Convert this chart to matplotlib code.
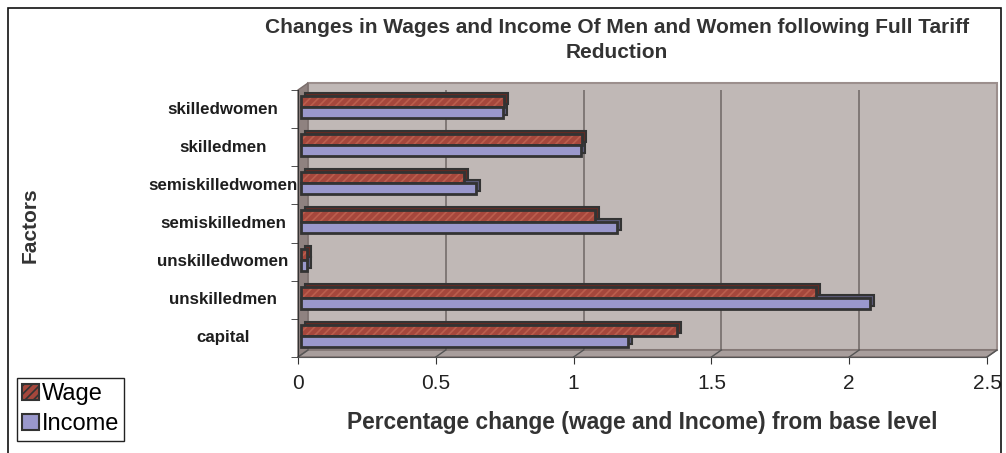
import matplotlib
matplotlib.use("Agg")
from matplotlib import pyplot as plt
from matplotlib.patches import Rectangle, Polygon, Patch
from matplotlib.transforms import offset_copy
import numpy as np

# data (bottom -> top)
categories = ["capital", "unskilledmen", "unskilledwomen", "semiskilledmen",
              "semiskilledwomen", "skilledmen", "skilledwomen"]
wage = [1.365, 1.868, 0.02, 1.067, 0.593, 1.02, 0.738]
income = [1.186, 2.063, 0.02, 1.146, 0.635, 1.015, 0.734]

x_ticks = [0, 0.5, 1, 1.5, 2, 2.5]
x_tick_labels = ["0", "0.5", "1", "1.5", "2", "2.5"]

title = "Changes in Wages and Income Of Men and Women following Full Tariff\nReduction"
x_title = "Percentage change (wage and Income) from base level"
y_title = "Factors"

wage_color = "#A5473C"
wage_hatch = "#BB5E4E"
income_color = "#9A98CC"
wall_color = "#C0B8B6"
edge_dark = "#333333"

plt.rcParams['font.family'] = ['Liberation Sans', 'DejaVu Sans']
plt.rcParams['hatch.linewidth'] = 1.2

W, H = 1006, 453
fig = plt.figure(figsize=(W / 100, H / 100), dpi=100)
ax = fig.add_axes([298 / W, 1 - 357 / H, (987 - 298) / W, (357 - 90) / H])
ax.set_xlim(0, 2.5)
ax.set_ylim(-0.5, len(categories) - 0.5)
ax.patch.set_visible(False)

# depth offset of the back wall (pixels)
dx, dy = 10, 7
back = offset_copy(ax.transAxes, fig, x=dx, y=dy, units='dots')
back_data = offset_copy(ax.transData, fig, x=dx, y=dy, units='dots')

# back wall
ax.add_patch(Rectangle((0, 0), 1, 1, transform=back, facecolor=wall_color,
                       edgecolor="#9C8F8D", lw=1.5, zorder=0, clip_on=False))

# left side wall and floor, built from the axes corners
fig.canvas.draw()
c = ax.transAxes.transform([(0, 0), (0, 1), (1, 0)])
left_wall = [c[0], c[1], c[1] + (dx, dy), c[0] + (dx, dy)]
floor = [c[0], c[2], c[2] + (dx, dy), c[0] + (dx, dy)]
ax.add_patch(Polygon(left_wall, closed=True, transform=None, facecolor="#8F8280",
                     edgecolor="#7A6E6C", lw=1, zorder=0.5, clip_on=False))
ax.add_patch(Polygon(floor, closed=True, transform=None, facecolor="#A89E9C",
                     edgecolor="#7A6E6C", lw=1, zorder=0.5, clip_on=False))

# gridlines on the back wall
ax.vlines(x_ticks[1:-1], -0.5, len(categories) - 0.5, transform=back_data,
          colors="#6E6664", lw=1.1, zorder=0.6)

# small depth ticks on the floor
for xt in x_ticks:
    p = ax.transData.transform((xt, -0.5))
    ax.plot([p[0], p[0] + dx], [p[1], p[1] + dy], transform=None,
            color="#555555", lw=1, zorder=0.7, clip_on=False)

# bars
y = np.arange(len(categories))
h = 0.29
front = offset_copy(ax.transData, fig, x=3, y=2, units='dots')
side = offset_copy(ax.transData, fig, x=7, y=5, units='dots')

def shade(col, f=0.6):
    rgb = np.array(matplotlib.colors.to_rgb(col))
    return tuple(rgb * f)

ax.barh(y + h / 2, wage, height=h, color=shade(wage_color), edgecolor=edge_dark,
        lw=1.5, transform=side, zorder=2)
ax.barh(y - h / 2, income, height=h, color=shade(income_color), edgecolor=edge_dark,
        lw=1.5, transform=side, zorder=2)
ax.barh(y + h / 2, wage, height=h, color=wage_color, edgecolor=wage_hatch,
        hatch="////", lw=0, transform=front, zorder=3)
ax.barh(y + h / 2, wage, height=h, fill=False, edgecolor=edge_dark,
        lw=2, transform=front, zorder=4)
ax.barh(y - h / 2, income, height=h, color=income_color, edgecolor=edge_dark,
        lw=2, transform=front, zorder=4)

# axes styling
for s in ["top", "right"]:
    ax.spines[s].set_visible(False)
ax.spines["left"].set_color("#333333")
ax.spines["bottom"].set_color("#555555")
ax.spines["left"].set_zorder(5)
ax.spines["bottom"].set_zorder(5)

ax.set_xticks(x_ticks)
ax.set_xticklabels(x_tick_labels, fontsize=15, color="#222222")
ax.set_yticks(np.arange(len(categories) + 1) - 0.5, minor=True)
ax.set_yticks(y)
ax.set_yticklabels([])
ax.tick_params(axis="y", which="major", length=0)
ax.tick_params(axis="y", which="minor", length=5, color="#333333")
ax.tick_params(axis="x", length=5, pad=7, color="#333333")

# category labels are centred in a column left of the axis (Excel style)
label_x = 223 / W
for yi, name in zip(y, categories):
    yy = ax.transData.transform((0, yi))[1] / H
    fig.text(label_x, yy, name, ha="center", va="center", fontsize=12.2,
             fontweight="bold", color="#1E1E1E")

# titles
fig.text(617 / W, 1 - 40 / H, title, ha="center", va="center", fontsize=15,
         fontweight="bold", color="#333333", linespacing=1.4)
fig.text(642 / W, 1 - 423 / H, x_title, ha="center", va="center", fontsize=16.4,
         fontweight="bold", color="#333333")
fig.text(30 / W, 1 - 225 / H, y_title, ha="center", va="center", fontsize=15,
         fontweight="bold", color="#333333", rotation=90)

# legend
handles = [Patch(facecolor=wage_color, edgecolor=edge_dark, hatch="////", lw=1.5),
           Patch(facecolor=income_color, edgecolor=edge_dark, lw=1.5)]
leg = fig.legend(handles, ["Wage", "Income"], loc="upper left",
                 bbox_to_anchor=(17 / W, 1 - 378 / H), borderaxespad=0,
                 fancybox=False, edgecolor="#222222", fontsize=17,
                 handlelength=0.7, handleheight=0.7, handletextpad=0.12,
                 borderpad=0.22, labelspacing=0.35, framealpha=1)
leg.get_frame().set_linewidth(1)

# outer chart border
fig.patches.append(Rectangle((8 / W, -0.05), (1001 - 8) / W, (H - 8) / H + 0.05,
                             transform=fig.transFigure, fill=False,
                             edgecolor="#111111", lw=1.2))

fig.savefig("out.png", dpi=100)
